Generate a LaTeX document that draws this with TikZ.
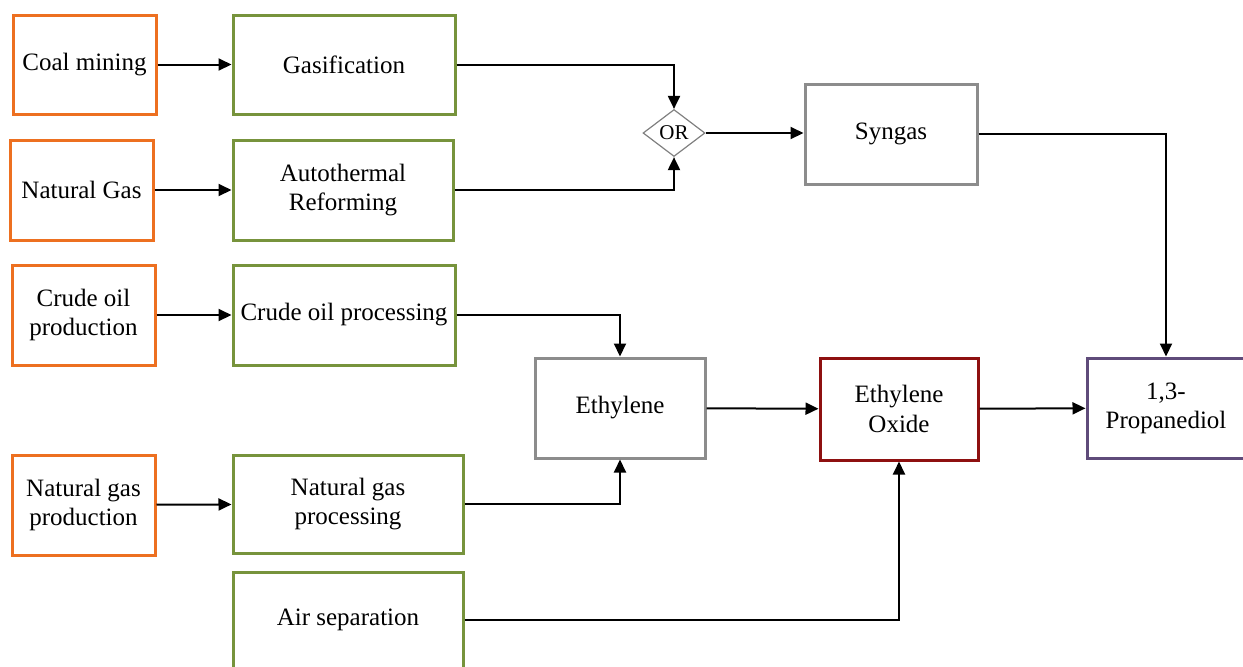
\documentclass[tikz,border=0pt]{standalone}
\usepackage{fontspec}
\setmainfont{Liberation Serif}
\usetikzlibrary{shapes.geometric,arrows.meta}

\definecolor{srcorange}{HTML}{ED7020}
\definecolor{procgreen}{HTML}{77933C}
\definecolor{midgray}{HTML}{8C8C8C}
\definecolor{oxred}{HTML}{8E1010}
\definecolor{pdopurple}{HTML}{5F4B7A}

\tikzset{
  box/.style 2 args={draw, rectangle, line width=1.5pt, fill=white,
    minimum width=#1*0.5pt, minimum height=#2*0.5pt, inner sep=2pt,
    align=center, font=\fontsize{12.5pt}{14.6pt}\selectfont},
  source/.style 2 args={box={#1}{#2}, draw=srcorange},
  process/.style 2 args={box={#1}{#2}, draw=procgreen},
  product/.style 2 args={box={#1}{#2}, draw=midgray},
  oxide/.style 2 args={box={#1}{#2}, draw=oxred},
  final/.style 2 args={box={#1}{#2}, draw=pdopurple},
  gate/.style={draw=gray, line width=0.6pt, diamond, aspect=1.3, inner sep=1.2pt,
    minimum width=31pt, minimum height=23.5pt, font=\fontsize{10.5pt}{12pt}\selectfont},
  flow/.style={draw=black, line width=1pt, -{Triangle[length=6.5pt,width=6pt]}}
}

\begin{document}
\begin{tikzpicture}[x=0.5pt,y=-0.5pt]
  \useasboundingbox (0,0) rectangle (1243,666);
  \clip (0,0) rectangle (1243,666);

  % raw resources
  \node[source={143}{99}]  (coal)  at (84.5,64.5) {Coal mining};
  \node[source={143}{100}] (ngas)  at (81.5,190)  {Natural Gas};
  \node[source={143}{100}] (crude) at (83.5,315)  {Crude oil\\production};
  \node[source={143}{100}] (ngprod) at (83.5,505) {Natural gas\\production};

  % processing steps
  \node[process={222}{99}]  (gasif) at (344,64.5) {Gasification};
  \node[process={220}{100}] (atr)   at (343,190)  {Autothermal\\Reforming};
  \node[process={222}{100}] (coproc) at (344,315) {Crude oil processing};
  \node[process={230}{98}]  (ngproc) at (348,504) {Natural gas\\processing};
  \node[process={230}{96}]  (airsep) at (348,620) {Air separation};

  % intermediates and products
  \node[gate] (orgate) at (674,133) {OR};
  \node[product={172}{100}] (syngas) at (891,134) {Syngas};
  \node[product={170}{100}] (ethyl) at (620,408) {Ethylene};
  \node[oxide={158}{102}]   (eo)    at (899,409) {Ethylene\\Oxide};
  \node[final={158}{100}]   (pdo)   at (1166,408) {1,3-\\Propanediol};

  % flows
  \draw[flow] (coal) -- (gasif);
  \draw[flow] (ngas) -- (atr);
  \draw[flow] (crude) -- (coproc);
  \draw[flow] (ngprod) -- (ngproc);
  \draw[flow] (gasif.east) -| (orgate.north);
  \draw[flow] (atr.east) -| (orgate.south);
  \draw[flow] (orgate.east) -- (orgate.east -| syngas.west);
  \draw[flow] (syngas.east) -| (pdo.north);
  \draw[flow] (coproc.east) -| (ethyl.north);
  \draw[flow] (ngproc.east) -| (ethyl.south);
  \draw[flow] (ethyl) -- (eo);
  \draw[flow] (airsep.east) -| (eo.south);
  \draw[flow] (eo) -- (pdo);
\end{tikzpicture}
\end{document}
